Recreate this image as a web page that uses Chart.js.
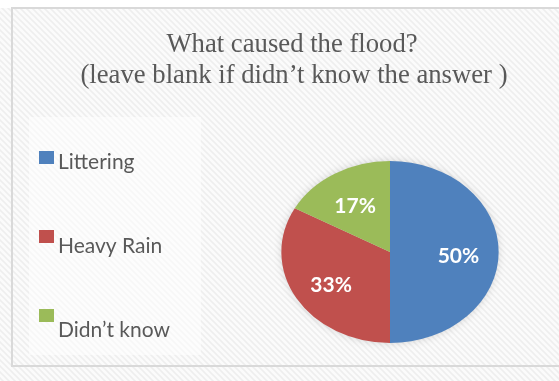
<!DOCTYPE html>
<html>
<head>
<meta charset="utf-8">
<script src="https://cdn.jsdelivr.net/npm/chart.js@4.4.1/dist/chart.umd.min.js"></script>
<style>
  html, body { margin: 0; padding: 0; background: #fff; overflow: hidden; }
  canvas { display: block; }
</style>
</head>
<body>
<canvas id="flood" width="559" height="381"></canvas>
<script>
const causes = ['Littering', 'Heavy Rain', 'Didn\u2019t know'];
const shares = [50, 33, 17];
const sliceColors = ['#4f81bd', '#c0504d', '#9bbb59'];
const titleLines = ['What caused the flood?', '(leave blank if didn\u2019t know the answer )'];

const squash = 1.194;   // pie is stretched sideways into an ellipse
const grey = '#595959';

// faint diagonal texture used behind the whole chart
function hatchPattern(ctx) {
    const tile = document.createElement('canvas');
    tile.width = 6; tile.height = 6;
    const t = tile.getContext('2d');
    t.fillStyle = '#fbfbfb';
    t.fillRect(0, 0, 6, 6);
    t.strokeStyle = '#eeeeee';
    t.lineWidth = 1.6;
    t.beginPath();
    t.moveTo(-1, -1); t.lineTo(7, 7);
    t.moveTo(-4, 2); t.lineTo(4, 10);
    t.moveTo(2, -4); t.lineTo(10, 4);
    t.stroke();
    return ctx.createPattern(tile, 'repeat');
}

const backdrop = {
    id: 'backdrop',
    beforeDraw(chart) {
        const ctx = chart.ctx;
        ctx.save();
        ctx.fillStyle = '#fff';
        ctx.fillRect(0, 0, chart.width, chart.height);
        ctx.fillStyle = hatchPattern(ctx);
        ctx.fillRect(0, 8, chart.width, chart.height - 8);
        // frame
        ctx.strokeStyle = '#d9d9d9';
        ctx.lineWidth = 2;
        ctx.strokeRect(12, 8, chart.width + 20, 358);
        // legend panel
        ctx.fillStyle = 'rgba(255,255,255,0.5)';
        ctx.fillRect(29, 117, 172, 238);
        // title
        ctx.fillStyle = grey;
        ctx.font = '26.7px "Liberation Serif", "Times New Roman", serif';
        ctx.textAlign = 'center';
        ctx.textBaseline = 'alphabetic';
        ctx.fillText(titleLines[0], 292, 52);
        ctx.fillText(titleLines[1], 294, 83);
        ctx.restore();
    },
    afterDraw(chart) {
        const ctx = chart.ctx;
        const colors = chart.data.datasets[0].backgroundColor;
        ctx.save();
        ctx.font = '21px Lato, "Open Sans", sans-serif';
        ctx.textBaseline = 'alphabetic';
        ctx.textAlign = 'left';
        chart.data.labels.forEach((label, i) => {
            ctx.fillStyle = colors[i];
            ctx.fillRect(39, 151 + i * 79, 15, 13);
            ctx.fillStyle = grey;
            ctx.fillText(label, 58, 169 + i * 84);
        });
        ctx.restore();
    }
};

const ellipse = {
    id: 'ellipse',
    beforeDatasetsDraw(chart) {
        const arc = chart.getDatasetMeta(0).data[0];
        const ctx = chart.ctx;
        ctx.save();
        ctx.translate(arc.x, arc.y);
        ctx.scale(squash, 1);
        ctx.translate(-arc.x, -arc.y);
        // soft halo under the pie
        ctx.save();
        ctx.shadowColor = 'rgba(0,0,0,0.18)';
        ctx.shadowBlur = 10;
        ctx.fillStyle = '#ddd';
        ctx.beginPath();
        ctx.arc(arc.x, arc.y, arc.outerRadius - 1, 0, Math.PI * 2);
        ctx.fill();
        ctx.restore();
    },
    afterDatasetsDraw(chart) {
        const ctx = chart.ctx;
        ctx.restore();
        const meta = chart.getDatasetMeta(0);
        const data = chart.data.datasets[0].data;
        const total = data.reduce((a, b) => a + b, 0);
        ctx.save();
        ctx.font = 'bold 21px Lato, "Open Sans", sans-serif';
        ctx.fillStyle = '#fff';
        ctx.textAlign = 'center';
        ctx.textBaseline = 'middle';
        meta.data.forEach((arc, i) => {
            const mid = (arc.startAngle + arc.endAngle) / 2;
            const r = arc.outerRadius * 0.63;
            const x = arc.x + Math.cos(mid) * r * squash;
            const y = arc.y + Math.sin(mid) * r + 4;
            ctx.fillText(Math.round(data[i] / total * 100) + '%', x, y);
        });
        ctx.restore();
    }
};

new Chart(document.getElementById('flood'), {
    type: 'pie',
    data: {
        labels: causes,
        datasets: [{
            data: shares,
            backgroundColor: sliceColors,
            borderWidth: 0
        }]
    },
    options: {
        responsive: false,
        devicePixelRatio: 1,
        animation: false,
        layout: {
            padding: { top: 161, bottom: 38, left: 299, right: 78 }
        },
        plugins: {
            legend: { display: false },
            title: { display: false },
            tooltip: { enabled: false }
        }
    },
    plugins: [backdrop, ellipse]
});
</script>
</body>
</html>
